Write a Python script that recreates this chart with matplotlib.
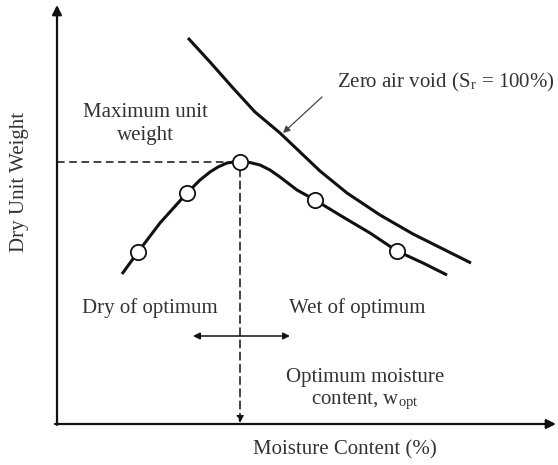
import matplotlib
matplotlib.use("Agg")
import matplotlib.pyplot as plt

plt.rcParams['font.family'] = ['Liberation Serif', 'DejaVu Serif']
plt.rcParams['mathtext.fontset'] = 'stix'

# compaction curve (moisture content, dry unit weight) in arbitrary units
curve_w = [122, 138, 160, 187, 200, 210, 218, 227, 234, 240, 250, 260, 270, 280, 297, 315,
           343, 370, 397, 423, 447]
curve_g = [191, 213, 242, 272, 285, 293, 298, 302, 303, 303, 302.5, 300, 295, 288, 275, 265,
           248, 232, 214, 202, 190]
# test points
test_w = [138, 187, 240, 315, 397]
test_g = [213, 272, 303, 265, 214]
# zero air void line
zav_w = [188, 210, 233, 255, 280, 300, 320, 347, 380, 413, 445, 471]
zav_g = [427, 403, 377, 353, 332, 313, 294, 272, 250, 231, 215, 202]

opt_w = 240
max_g = 303
origin = (57, 41)

text_c = '#333333'
line_c = '#111111'

fig = plt.figure(figsize=(5.58, 4.65), dpi=100)
ax = fig.add_axes([0, 0, 1, 1])
ax.set_xlim(0, 558)
ax.set_ylim(0, 465)
ax.axis('off')

# axes arrows
ax.annotate('', xy=(556, origin[1]), xytext=(origin[0] - 2, origin[1]),
            arrowprops=dict(arrowstyle='-|>', color=line_c, lw=1.6, mutation_scale=14,
                            shrinkA=0, shrinkB=0))
ax.annotate('', xy=(origin[0], 460), xytext=(origin[0], origin[1] - 1),
            arrowprops=dict(arrowstyle='-|>', color=line_c, lw=1.6, mutation_scale=14,
                            shrinkA=0, shrinkB=0))

ax.plot(zav_w, zav_g, color=line_c, lw=2.2, solid_capstyle='butt', solid_joinstyle='round')
ax.plot(curve_w, curve_g, color=line_c, lw=2.2, solid_capstyle='butt', solid_joinstyle='round')
ax.plot(test_w, test_g, 'o', ms=11, mfc='white', mec=line_c, mew=1.3, zorder=5)

# dashed guides
ax.plot([origin[0], opt_w], [max_g, max_g], color=line_c, lw=1.1, ls=(0, (5, 3)))
ax.annotate('', xy=(opt_w, origin[1] + 1), xytext=(opt_w, max_g - 7),
            arrowprops=dict(arrowstyle='-|>', color=line_c, lw=1.1, ls=(0, (5, 3)),
                            mutation_scale=10, shrinkA=0, shrinkB=0))

# double arrow
ax.annotate('', xy=(193, 129), xytext=(290, 129),
            arrowprops=dict(arrowstyle='<|-|>', color=line_c, lw=1.1, mutation_scale=10,
                            shrinkA=0, shrinkB=0))

# zero air void pointer
ax.annotate('', xy=(283, 332), xytext=(322, 368),
            arrowprops=dict(arrowstyle='-|>', color='#444444', lw=0.9, mutation_scale=10,
                            shrinkA=0, shrinkB=0))

fs = 15
ax.text(446, 383, r'Zero air void (S$_\mathregular{r}$ = 100%)', ha='center', va='center',
        fontsize=fs, color=text_c)
ax.text(145, 341, 'Maximum unit\nweight', ha='center', va='center', fontsize=fs,
        color=text_c, linespacing=1.25)
ax.text(150, 157, 'Dry of optimum', ha='center', va='center', fontsize=fs, color=text_c)
ax.text(357, 157, 'Wet of optimum', ha='center', va='center', fontsize=fs, color=text_c)
ax.text(365, 75, 'Optimum moisture\ncontent, w$_\\mathregular{opt}$', ha='center', va='center',
        fontsize=fs, color=text_c, linespacing=1.25)
ax.text(345, 15, 'Moisture Content (%)', ha='center', va='center', fontsize=fs, color=text_c)
ax.text(20, 283, 'Dry Unit Weight', ha='center', va='center', rotation=90, fontsize=fs,
        color=text_c)

fig.savefig('out.png', dpi=100)
